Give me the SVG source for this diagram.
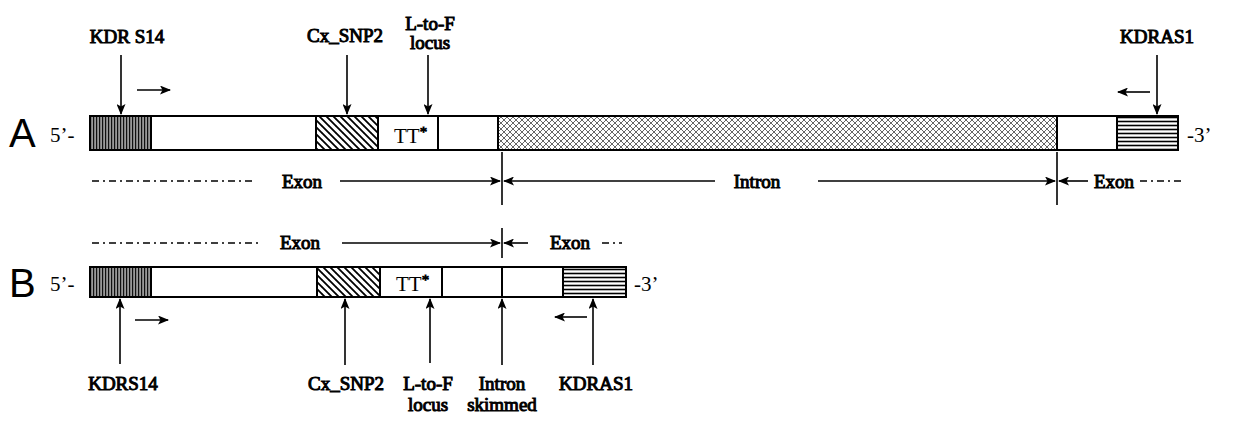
<svg xmlns="http://www.w3.org/2000/svg" width="1233" height="423" viewBox="0 0 1233 423">
<style>
.lbl{font-family:"Liberation Serif","Times New Roman",serif;font-weight:normal;font-size:19px;fill:#000;stroke:#000;stroke-width:1;text-anchor:middle}
.plain{font-family:"Liberation Serif","Times New Roman",serif;font-size:21px;fill:#000}
.big{font-family:"Liberation Sans",Arial,sans-serif;font-size:40px;fill:#000}
.ln{stroke:#000;stroke-width:1.6;fill:none}
.arr{stroke:#000;stroke-width:1.6;fill:none;marker-end:url(#ah)}
.box{fill:none;stroke:#000;stroke-width:2}
.dv{stroke:#000;stroke-width:2}
.dd{stroke:#000;stroke-width:1.4;fill:none;stroke-dasharray:7 4 2 4}
</style>
<defs>
<marker id="ah" markerWidth="11" markerHeight="9" refX="10" refY="4.5" orient="auto" markerUnits="userSpaceOnUse">
<path d="M0,0 L11,4.5 L0,9 L2.5,4.5 Z" fill="#000"/>
</marker>
<pattern id="vh" patternUnits="userSpaceOnUse" width="3" height="10">
<rect width="3" height="10" fill="#9a9a9a"/>
<line x1="0.6" y1="0" x2="0.6" y2="10" stroke="#111" stroke-width="1.2"/>
</pattern>
<pattern id="dg" patternUnits="userSpaceOnUse" width="7" height="7">
<rect width="7" height="7" fill="#fff"/>
<path d="M-1,-1 L8,8 M-4.5,2.5 L0.5,7.5 M2.5,-4.5 L7.5,0.5" stroke="#000" stroke-width="1.8"/>
</pattern>
<pattern id="xh" patternUnits="userSpaceOnUse" width="6" height="6">
<rect width="6" height="6" fill="#fff"/>
<path d="M0,0 L6,6 M6,0 L0,6" stroke="#555" stroke-width="0.9"/>
</pattern>
<pattern id="hh" patternUnits="userSpaceOnUse" width="10" height="4">
<rect width="10" height="4" fill="#fff"/>
<line x1="0" y1="1.5" x2="10" y2="1.5" stroke="#000" stroke-width="1.6"/>
</pattern>
</defs>

<g id="labelA"><text class="big" x="9" y="147">A</text></g>
<g id="labelB"><text class="big" x="9" y="297">B</text></g>

<g id="barA">
<rect x="90" y="116" width="61" height="34" fill="url(#vh)"/>
<rect x="316" y="116" width="62" height="34" fill="url(#dg)"/>
<rect x="498" y="116" width="559" height="34" fill="url(#xh)"/>
<rect x="1117" y="116" width="61" height="34" fill="url(#hh)"/>
<rect class="box" x="90" y="116" width="1088" height="34"/>
<line class="dv" x1="151" y1="116" x2="151" y2="150"/>
<line class="dv" x1="316" y1="116" x2="316" y2="150"/>
<line class="dv" x1="378" y1="116" x2="378" y2="150"/>
<line class="dv" x1="438" y1="116" x2="438" y2="150"/>
<line class="dv" x1="498" y1="116" x2="498" y2="150"/>
<line class="dv" x1="1057" y1="116" x2="1057" y2="150"/>
<line class="dv" x1="1117" y1="116" x2="1117" y2="150"/>
<text class="plain" x="394" y="143">TT<tspan stroke="#000" stroke-width="0.8" font-size="15" dy="-6">*</tspan></text>
<text class="plain" x="50" y="142">5’-</text>
<text class="plain" x="1187" y="142">-3’</text>
</g>

<g id="barB">
<rect x="90" y="267" width="61" height="30" fill="url(#vh)"/>
<rect x="317" y="267" width="63" height="30" fill="url(#dg)"/>
<rect x="563" y="267" width="63" height="30" fill="url(#hh)"/>
<rect class="box" x="90" y="267" width="536" height="30"/>
<line class="dv" x1="151" y1="267" x2="151" y2="297"/>
<line class="dv" x1="317" y1="267" x2="317" y2="297"/>
<line class="dv" x1="380" y1="267" x2="380" y2="297"/>
<line class="dv" x1="442" y1="267" x2="442" y2="297"/>
<line class="dv" x1="502" y1="267" x2="502" y2="297"/>
<line class="dv" x1="563" y1="267" x2="563" y2="297"/>
<text class="plain" x="396" y="291">TT<tspan stroke="#000" stroke-width="0.8" font-size="15" dy="-6">*</tspan></text>
<text class="plain" x="50" y="291">5’-</text>
<text class="plain" x="634" y="291">-3’</text>
</g>

<g id="markersA">
<text class="lbl" x="127" y="43">KDR S14</text>
<text class="lbl" x="345" y="42">Cx_SNP2</text>
<text class="lbl" x="430" y="30">L-to-F</text>
<text class="lbl" x="430" y="49">locus</text>
<text class="lbl" x="1157" y="43">KDRAS1</text>
</g>

<g id="markersB">
<text class="lbl" x="123" y="390">KDRS14</text>
<text class="lbl" x="346" y="390">Cx_SNP2</text>
<text class="lbl" x="428" y="390">L-to-F</text>
<text class="lbl" x="428" y="411">locus</text>
<text class="lbl" x="502" y="390">Intron</text>
<text class="lbl" x="502" y="411">skimmed</text>
<text class="lbl" x="596" y="390">KDRAS1</text>
</g>

<g id="regionsA">
<text class="lbl" x="302" y="188">Exon</text>
<text class="lbl" x="757" y="188">Intron</text>
<text class="lbl" x="1114" y="188">Exon</text>
</g>
<g id="regionsB">
<text class="lbl" x="300" y="249">Exon</text>
<text class="lbl" x="570" y="249">Exon</text>
</g>

<g id="connectors">
<line class="arr" x1="121" y1="55" x2="121" y2="114"/>
<line class="arr" x1="137" y1="90" x2="170" y2="90"/>
<line class="arr" x1="347" y1="55" x2="347" y2="114"/>
<line class="arr" x1="428" y1="55" x2="428" y2="114"/>
<line class="arr" x1="1157" y1="55" x2="1157" y2="114"/>
<line class="arr" x1="1150" y1="92" x2="1118" y2="92"/>

<path class="dd" d="M92,181 H253"/>
<line class="arr" x1="340" y1="181" x2="500" y2="181"/>
<line class="ln" x1="502" y1="152" x2="502" y2="205"/>
<line class="arr" x1="715" y1="181" x2="504" y2="181"/>
<line class="arr" x1="818" y1="181" x2="1055" y2="181"/>
<line class="ln" x1="1057" y1="152" x2="1057" y2="205"/>
<line class="arr" x1="1088" y1="181" x2="1059" y2="181"/>
<path class="dd" d="M1140,181 H1182"/>

<path class="dd" d="M92,243 H258"/>
<line class="arr" x1="342" y1="243" x2="500" y2="243"/>
<line class="ln" x1="502" y1="228" x2="502" y2="258"/>
<line class="arr" x1="528" y1="243" x2="504" y2="243"/>
<path class="dd" d="M602,243 H622" stroke-dasharray="6 4 2 4"/>

<line class="arr" x1="120" y1="364" x2="120" y2="299"/>
<line class="arr" x1="135" y1="320" x2="168" y2="320"/>
<line class="arr" x1="345" y1="365" x2="345" y2="299"/>
<line class="arr" x1="430" y1="363" x2="430" y2="299"/>
<line class="arr" x1="502" y1="365" x2="502" y2="299"/>
<line class="arr" x1="593" y1="365" x2="593" y2="299"/>
<line class="arr" x1="587" y1="317" x2="555" y2="317"/>
</g>
</svg>
